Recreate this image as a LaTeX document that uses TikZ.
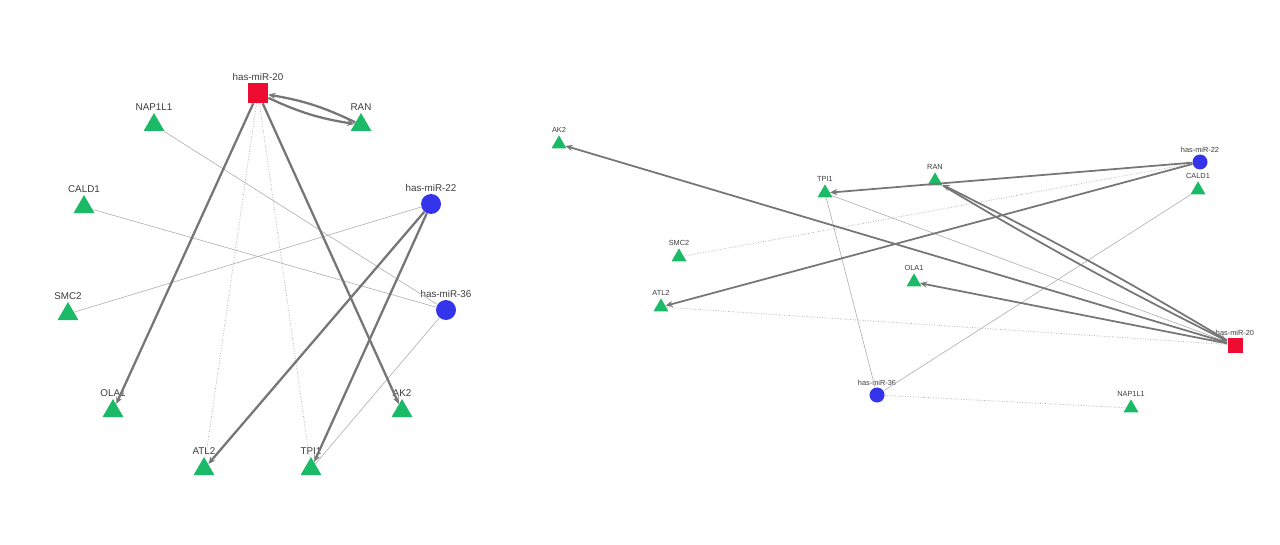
\documentclass[tikz,border=0pt]{standalone}
\usepackage{fontspec}
\setmainfont{Liberation Sans}
\usetikzlibrary{shapes.geometric, arrows.meta}
\definecolor{mirred}{RGB}{238,12,48}
\definecolor{mirblue}{RGB}{52,52,236}
\definecolor{genegreen}{RGB}{26,186,102}
\definecolor{edgegray}{RGB}{118,118,118}
\definecolor{faintgray}{RGB}{175,175,175}
\definecolor{labelgray}{RGB}{60,60,60}

\begin{document}
\begin{tikzpicture}[x=0.02cm, y=-0.02cm,
  tri/.style={regular polygon, regular polygon sides=3, fill=genegreen, inner sep=0pt},
  sq/.style={rectangle, fill=mirred, inner sep=0pt},
  dot/.style={circle, fill=mirblue, inner sep=0pt},
  strong/.style={draw=edgegray, -{Stealth[length=4pt, width=3.5pt]}},
  weak/.style={draw=faintgray, line width=0.35pt},
  weakdot/.style={weak, line width=0.45pt, densely dotted}]
\useasboundingbox (0,0) rectangle (1280,544);

% ---- left panel: circular layout ----
\begin{scope}[tri/.append style={minimum size=0.48cm},
  sq/.append style={minimum size=0.4cm},
  dot/.append style={minimum size=0.4cm},
  strong/.append style={line width=1.3pt},
  label distance=0.5pt,
  every label/.style={font=\fontsize{5.6}{6}\selectfont, text=labelgray, inner sep=0.5pt}]
  \node[sq, label=above:has-miR-20] (m20L) at (258,93) {};
  \node[dot, label=above:has-miR-22] (m22L) at (431,204) {};
  \node[dot, label=above:has-miR-36] (m36L) at (446,310) {};
  \node[tri, label=above:RAN] (ranL) at (361,125) {};
  \node[tri, label=above:NAP1L1] (napL) at (154,125) {};
  \node[tri, label=above:CALD1] (caldL) at (84,207) {};
  \node[tri, label=above:SMC2] (smcL) at (68,314) {};
  \node[tri, label=above:OLA1] (olaL) at (113,411) {};
  \node[tri, label=above:AK2] (ak2L) at (402,411) {};
  \node[tri, label=above:ATL2] (atlL) at (204,469) {};
  \node[tri, label=above:TPI1] (tpiL) at (311,469) {};

  % thin edges
  \draw[weakdot] (m20L) -- (atlL);
  \draw[weakdot] (m20L) -- (tpiL);
  \draw[weak] (m22L) -- (smcL);
  \draw[weak] (m36L) -- (caldL);
  \draw[weak] (m36L) -- (napL);
  \draw[weak] (m36L) -- (tpiL);

  % thick edges
  \draw[strong] (m20L) to[bend right=8] (ranL);
  \draw[strong] (ranL) to[bend right=8] (m20L);
  \draw[strong] (m20L) -- (olaL);
  \draw[strong] (m20L) -- (ak2L);
  \draw[strong] (m22L) -- (atlL);
  \draw[strong] (m22L) -- (tpiL);
\end{scope}

% ---- right panel: spread layout ----
\begin{scope}[tri/.append style={minimum size=0.345cm},
  sq/.append style={minimum size=0.3cm},
  dot/.append style={minimum size=0.3cm},
  strong/.append style={line width=1pt},
  label distance=0.3pt,
  every label/.style={font=\fontsize{4.2}{5}\selectfont, text=labelgray, inner sep=0.5pt}]
  \node[sq, label=above:has-miR-20] (m20R) at (1235,345) {};
  \node[dot, label=above:has-miR-22] (m22R) at (1200,162) {};
  \node[dot, label=above:has-miR-36] (m36R) at (877,395) {};
  \node[tri, label=above:AK2] (ak2R) at (559,144) {};
  \node[tri, label=above:TPI1] (tpiR) at (825,193) {};
  \node[tri, label=above:RAN] (ranR) at (935,181) {};
  \node[tri, label=above:CALD1] (caldR) at (1198,190) {};
  \node[tri, label=above:SMC2] (smcR) at (679,257) {};
  \node[tri, label=above:OLA1] (olaR) at (914,282) {};
  \node[tri, label=above:ATL2] (atlR) at (661,307) {};
  \node[tri, label=above:NAP1L1] (napR) at (1131,408) {};

  % thin edges
  \draw[weak] (m20R) -- (tpiR);
  \draw[weakdot] (m20R) -- (atlR);
  \draw[weakdot] (m22R) -- (smcR);
  \draw[weak] (m36R) -- (tpiR);
  \draw[weak] (m36R) -- (caldR);
  \draw[weakdot] (m36R) -- (napR);

  % thick edges
  \draw[strong] (m20R) -- (ak2R);
  \draw[strong] (m20R) -- (olaR);
  \draw[strong] (m20R) to[bend right=2] (ranR);
  \draw[strong] (ranR) to[bend right=2] (m20R);
  \draw[strong] (m22R) -- (tpiR);
  \draw[strong] (m22R) -- (atlR);
\end{scope}
\end{tikzpicture}
\end{document}
